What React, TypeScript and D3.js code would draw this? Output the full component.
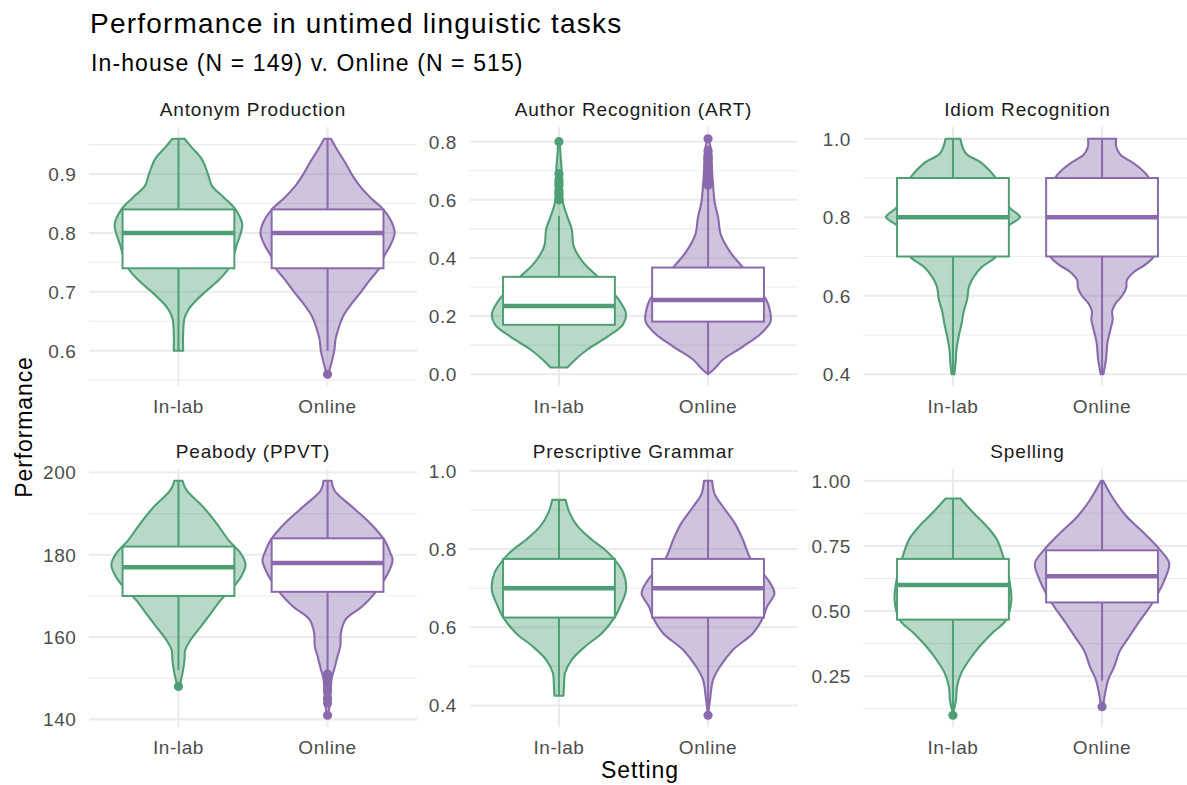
import * as d3 from "d3";
import { useEffect, useRef } from "react";

// facets and groups
const facets = [
  "Antonym Production",
  "Author Recognition (ART)",
  "Idiom Recognition",
  "Peabody (PPVT)",
  "Prescriptive Grammar",
  "Spelling",
];
const settings = ["In-lab", "Online"];
const colors = ["#4F9F75", "#8A6AAC"];

// y axis breaks per facet
const yTicks = [
  [0.6, 0.7, 0.8, 0.9],
  [0.0, 0.2, 0.4, 0.6, 0.8],
  [0.4, 0.6, 0.8, 1.0],
  [140, 160, 180, 200],
  [0.4, 0.6, 0.8, 1.0],
  [0.25, 0.5, 0.75, 1.0],
];
const tickFormats = [".1f", ".1f", ".1f", "d", ".1f", ".2f"];

// boxplot stats: [lower whisker, q1, median, q3, upper whisker], In-lab then Online
const boxAntonym = [[0.60, 0.74, 0.80, 0.84, 0.96], [0.60, 0.74, 0.80, 0.84, 0.96]];
const boxART = [[0.023, 0.17, 0.235, 0.335, 0.545], [0.0, 0.181, 0.255, 0.367, 0.64]];
const boxIdiom = [[0.4, 0.7, 0.8, 0.9, 1.0], [0.4, 0.7, 0.8, 0.9, 1.0]];
const boxPeabody = [[152, 170, 177, 182, 198], [152, 171, 178, 184, 198]];
const boxGrammar = [[0.425, 0.625, 0.70, 0.775, 0.925], [0.40, 0.625, 0.70, 0.775, 0.975]];
const boxSpelling = [[0.12, 0.467, 0.60, 0.70, 0.933], [0.233, 0.533, 0.633, 0.733, 1.0]];

// outliers
const outAntonym = [[], [0.56]];
const outART = [
  [0.60, 0.62, 0.63, 0.65, 0.66, 0.67, 0.69, 0.80],
  [0.65, 0.66, 0.67, 0.69, 0.70, 0.71, 0.72, 0.74, 0.75, 0.77, 0.81],
];
const outIdiom = [[], []];
const outPeabody = [[148], [151, 150, 149, 147, 145, 144, 141]];
const outGrammar = [[], [0.375]];
const outSpelling = [[0.10], [0.133]];

// violin outlines: [value, relative density]
const densAntonymLab = [[0.60, 0.07], [0.63, 0.07], [0.655, 0.09], [0.67, 0.15], [0.685, 0.26], [0.70, 0.4], [0.72, 0.6], [0.74, 0.75], [0.76, 0.82], [0.78, 0.87], [0.80, 0.93], [0.815, 0.95], [0.84, 0.85], [0.86, 0.68], [0.88, 0.5], [0.90, 0.44], [0.925, 0.35], [0.945, 0.2], [0.96, 0.09]];
const densAntonymOnline = [[0.56, 0.01], [0.58, 0.06], [0.60, 0.1], [0.62, 0.12], [0.64, 0.17], [0.66, 0.24], [0.68, 0.36], [0.70, 0.5], [0.72, 0.63], [0.74, 0.77], [0.76, 0.84], [0.78, 0.94], [0.80, 1.0], [0.82, 0.95], [0.84, 0.83], [0.86, 0.64], [0.88, 0.48], [0.90, 0.36], [0.92, 0.26], [0.94, 0.15], [0.96, 0.05]];
const densARTLab = [[0.023, 0.125], [0.05, 0.24], [0.086, 0.43], [0.13, 0.73], [0.17, 0.95], [0.207, 1.0], [0.26, 0.88], [0.30, 0.72], [0.335, 0.58], [0.385, 0.36], [0.44, 0.22], [0.50, 0.19], [0.545, 0.12], [0.59, 0.06], [0.65, 0.045], [0.70, 0.04], [0.75, 0.025], [0.80, 0.01]];
const densARTOnline = [[0.0, 0.0], [0.02, 0.1], [0.05, 0.22], [0.095, 0.52], [0.14, 0.79], [0.18, 0.93], [0.21, 0.93], [0.255, 0.87], [0.30, 0.72], [0.367, 0.52], [0.42, 0.33], [0.48, 0.19], [0.54, 0.15], [0.59, 0.1], [0.65, 0.075], [0.70, 0.06], [0.77, 0.045], [0.81, 0.01]];
const densIdiomLab = [[0.40, 0.02], [0.43, 0.04], [0.46, 0.05], [0.50, 0.09], [0.53, 0.13], [0.56, 0.16], [0.59, 0.21], [0.624, 0.24], [0.648, 0.31], [0.673, 0.43], [0.70, 0.64], [0.74, 0.75], [0.78, 0.84], [0.79, 0.93], [0.80, 1.0], [0.81, 0.95], [0.825, 0.84], [0.86, 0.76], [0.90, 0.64], [0.938, 0.43], [0.963, 0.19], [1.0, 0.11]];
const densIdiomOnline = [[0.40, 0.02], [0.44, 0.06], [0.48, 0.08], [0.51, 0.12], [0.54, 0.16], [0.56, 0.15], [0.58, 0.2], [0.60, 0.3], [0.62, 0.36], [0.64, 0.37], [0.66, 0.47], [0.68, 0.65], [0.70, 0.77], [0.73, 0.8], [0.77, 0.81], [0.80, 0.8], [0.85, 0.77], [0.90, 0.7], [0.92, 0.6], [0.94, 0.45], [0.96, 0.27], [0.98, 0.21], [1.0, 0.21]];
const densPeabodyLab = [[148, 0.015], [151.2, 0.06], [154.4, 0.09], [156.8, 0.1], [159.3, 0.18], [162.5, 0.33], [165.7, 0.48], [169, 0.63], [172.2, 0.82], [174.6, 0.93], [177.5, 1.0], [180.3, 0.93], [183.5, 0.75], [187.6, 0.57], [191.6, 0.37], [195.7, 0.12], [198, 0.06]];
const densPeabodyOnline = [[141, 0.0], [143, 0.03], [146, 0.045], [149.8, 0.06], [152.2, 0.1], [155.4, 0.15], [157.8, 0.19], [161.1, 0.2], [164.3, 0.27], [167.5, 0.52], [171, 0.72], [175.5, 0.9], [178.7, 0.97], [180.3, 0.94], [183.5, 0.85], [187.6, 0.64], [191.6, 0.37], [195.7, 0.1], [198, 0.06]];
const densGrammarLab = [[0.425, 0.067], [0.449, 0.075], [0.483, 0.09], [0.517, 0.19], [0.551, 0.39], [0.585, 0.64], [0.628, 0.84], [0.653, 0.91], [0.696, 1.0], [0.739, 0.96], [0.777, 0.81], [0.798, 0.69], [0.824, 0.49], [0.858, 0.28], [0.892, 0.16], [0.926, 0.1]];
const densGrammarOnline = [[0.375, 0.0], [0.415, 0.03], [0.466, 0.075], [0.50, 0.18], [0.542, 0.37], [0.585, 0.67], [0.625, 0.82], [0.653, 0.88], [0.687, 0.99], [0.72, 0.9], [0.739, 0.81], [0.777, 0.63], [0.824, 0.52], [0.866, 0.4], [0.909, 0.22], [0.94, 0.1], [0.975, 0.06]];
const densSpellingLab = [[0.12, 0.015], [0.158, 0.045], [0.209, 0.06], [0.26, 0.12], [0.311, 0.24], [0.362, 0.39], [0.414, 0.58], [0.465, 0.79], [0.542, 0.87], [0.619, 0.84], [0.70, 0.76], [0.772, 0.66], [0.823, 0.51], [0.875, 0.31], [0.932, 0.11]];
const densSpellingOnline = [[0.132, 0.015], [0.183, 0.045], [0.235, 0.09], [0.286, 0.18], [0.35, 0.27], [0.40, 0.4], [0.465, 0.57], [0.531, 0.75], [0.619, 0.93], [0.683, 1.0], [0.733, 0.87], [0.798, 0.63], [0.862, 0.37], [0.926, 0.18], [1.0, 0.015]];

const boxes = [boxAntonym, boxART, boxIdiom, boxPeabody, boxGrammar, boxSpelling];
const outliers = [outAntonym, outART, outIdiom, outPeabody, outGrammar, outSpelling];
const densities = [
  [densAntonymLab, densAntonymOnline],
  [densARTLab, densARTOnline],
  [densIdiomLab, densIdiomOnline],
  [densPeabodyLab, densPeabodyOnline],
  [densGrammarLab, densGrammarOnline],
  [densSpellingLab, densSpellingOnline],
];

const W = 1187, H = 785;
const FONT = "'Liberation Sans', Arial, sans-serif";

export default function App() {
  const ref = useRef<SVGSVGElement>(null);

  useEffect(() => {
    const svg = d3.select(ref.current);
    svg.selectAll("*").remove();

    const colLeft = [89, 469.5, 863.5];
    const panelW = 328;
    const rows = [[127, 386], [469, 727]];

    svg.append("rect").attr("width", W).attr("height", H).attr("fill", "#fff");

    facets.forEach((name, f) => {
      const left = colLeft[f % 3];
      const [top, bottom] = rows[Math.floor(f / 3)];
      const g = svg.append("g");

      const x = d3.scalePoint<string>().domain(settings).range([left, left + panelW]).padding(0.6);
      const step = x.step();

      const vals: number[] = [];
      densities[f].forEach((d) => d.forEach((p) => vals.push(p[0])));
      outliers[f].forEach((o) => o.forEach((v) => vals.push(v)));
      const [lo, hi] = d3.extent(vals) as [number, number];
      const pad = (hi - lo) * 0.05;
      const y = d3.scaleLinear().domain([lo - pad, hi + pad]).range([bottom, top]);

      // grid
      const ticks = yTicks[f];
      const half = (ticks[1] - ticks[0]) / 2;
      const minor: number[] = [];
      for (let v = ticks[0] - half; v <= hi + pad; v += half * 2) {
        if (v >= lo - pad) minor.push(v);
      }
      g.selectAll(".minor").data(minor).enter().append("line")
        .attr("x1", left).attr("x2", left + panelW)
        .attr("y1", (d) => y(d)).attr("y2", (d) => y(d))
        .attr("stroke", "#EBEBEB").attr("stroke-width", 1.1);
      g.selectAll(".major").data(ticks).enter().append("line")
        .attr("x1", left).attr("x2", left + panelW)
        .attr("y1", (d) => y(d)).attr("y2", (d) => y(d))
        .attr("stroke", "#EBEBEB").attr("stroke-width", 2.1);
      g.selectAll(".vmajor").data(settings).enter().append("line")
        .attr("x1", (d) => x(d)!).attr("x2", (d) => x(d)!)
        .attr("y1", top).attr("y2", bottom)
        .attr("stroke", "#EBEBEB").attr("stroke-width", 2.1);

      // y tick labels
      const fmt = d3.format(tickFormats[f]);
      g.selectAll(".ylab").data(ticks).enter().append("text")
        .attr("x", left - 12.5).attr("y", (d) => y(d)).attr("dy", "0.36em")
        .attr("text-anchor", "end")
        .style("font-family", FONT).style("font-size", "19px").style("letter-spacing", "0.6px")
        .attr("fill", "#4D4D4D").text((d) => fmt(d));

      // x tick labels
      g.selectAll(".xlab").data(settings).enter().append("text")
        .attr("x", (d) => x(d)!).attr("y", bottom + 27)
        .attr("text-anchor", "middle")
        .style("font-family", FONT).style("font-size", "19px").style("letter-spacing", "0.6px")
        .attr("fill", "#4D4D4D").text((d) => d);

      // strip
      g.append("text")
        .attr("x", left + panelW / 2).attr("y", top - 11)
        .attr("text-anchor", "middle")
        .style("font-family", FONT).style("font-size", "19px").style("letter-spacing", "0.85px")
        .attr("fill", "#1A1A1A").text(name);

      // violins
      const wScale = d3.scaleLinear().domain([0, 1]).range([0, 0.45 * step]);
      settings.forEach((s, i) => {
        const cx = x(s)!;
        const area = d3.area<number[]>()
          .y((d) => y(d[0]))
          .x0((d) => cx - wScale(d[1]))
          .x1((d) => cx + wScale(d[1]))
          .curve(d3.curveCatmullRom.alpha(0.5));
        g.append("path")
          .attr("d", area(densities[f][i]))
          .attr("fill", colors[i]).attr("fill-opacity", 0.4)
          .attr("stroke", colors[i]).attr("stroke-width", 2.1)
          .attr("stroke-linejoin", "round");
      });

      // boxplots
      const bw = 0.75 * step;
      settings.forEach((s, i) => {
        const cx = x(s)!;
        const [wlo, q1, med, q3, whi] = boxes[f][i];
        const c = colors[i];
        g.append("line").attr("x1", cx).attr("x2", cx).attr("y1", y(q3)).attr("y2", y(whi))
          .attr("stroke", c).attr("stroke-width", 2);
        g.append("line").attr("x1", cx).attr("x2", cx).attr("y1", y(q1)).attr("y2", y(wlo))
          .attr("stroke", c).attr("stroke-width", 2);
        g.append("rect")
          .attr("x", cx - bw / 2).attr("width", bw)
          .attr("y", y(q3)).attr("height", y(q1) - y(q3))
          .attr("fill", "#fff").attr("stroke", c).attr("stroke-width", 2);
        g.append("line").attr("x1", cx - bw / 2).attr("x2", cx + bw / 2)
          .attr("y1", y(med)).attr("y2", y(med))
          .attr("stroke", c).attr("stroke-width", 4.5);
        g.selectAll(".out" + i).data(outliers[f][i]).enter().append("circle")
          .attr("cx", cx).attr("cy", (d) => y(d)).attr("r", 4.6)
          .attr("fill", c);
      });
    });

    // titles
    svg.append("text").attr("x", 90).attr("y", 33)
      .style("font-family", FONT).style("font-size", "28px").style("letter-spacing", "1.2px")
      .attr("fill", "#000").text("Performance in untimed linguistic tasks");
    svg.append("text").attr("x", 91).attr("y", 70.5)
      .style("font-family", FONT).style("font-size", "23px").style("letter-spacing", "1.1px")
      .attr("fill", "#000").text("In-house (N = 149) v. Online (N = 515)");
    svg.append("text").attr("x", 640).attr("y", 778)
      .attr("text-anchor", "middle")
      .style("font-family", FONT).style("font-size", "23px").style("letter-spacing", "0.9px")
      .attr("fill", "#000").text("Setting");
    svg.append("text")
      .attr("transform", "translate(32,427) rotate(-90)")
      .attr("text-anchor", "middle")
      .style("font-family", FONT).style("font-size", "23px").style("letter-spacing", "0.9px")
      .attr("fill", "#000").text("Performance");
  }, []);

  return (
    <div style={{ position: "absolute", left: 0, top: 0 }}>
      <svg ref={ref} width={W} height={H} style={{ display: "block" }} />
    </div>
  );
}
